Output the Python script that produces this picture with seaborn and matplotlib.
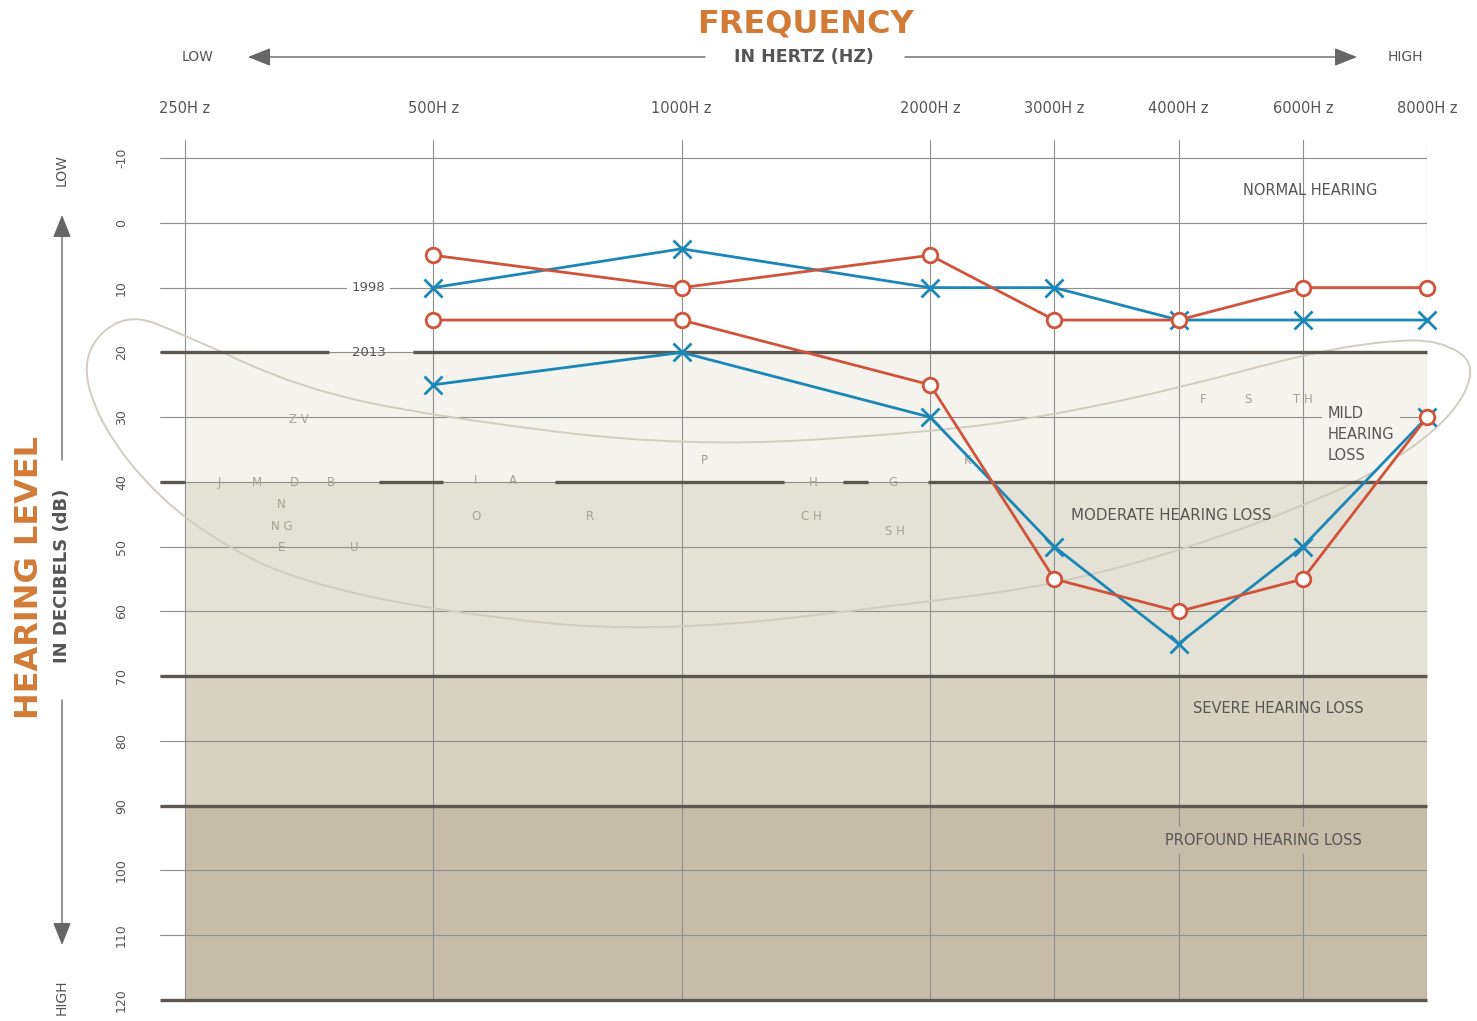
import matplotlib
matplotlib.use("Agg")
import matplotlib.pyplot as plt
import numpy as np
import pandas as pd
import seaborn as sns
from matplotlib.path import Path
from matplotlib.patches import PathPatch

# frequencies (x positions are octave steps, 3k/6k at half steps)
freq_labels = ["250H z", "500H z", "1000H z", "2000H z", "3000H z", "4000H z", "6000H z", "8000H z"]
freq_pos = [0, 1, 2, 3, 3.5, 4, 4.5, 5]
test_pos = [1, 2, 3, 3.5, 4, 4.5, 5]

# hearing thresholds in dB (red O = right ear, blue X = left ear)
right_1998 = [5, 10, 5, 15, 15, 10, 10]
left_1998 = [10, 4, 10, 10, 15, 15, 15]
right_2013 = [15, 15, 25, 55, 60, 55, 30]
left_2013 = [25, 20, 30, 50, 65, 50, 30]

db_ticks = list(range(-10, 121, 10))
band_edges = [20, 40, 70, 90, 120]
band_colors = ["#f4f3ee", "#e4e1d7", "#d6d1c1", "#c5bda7"]

band_names = ["NORMAL HEARING", "MILD\nHEARING\nLOSS", "MODERATE HEARING LOSS",
              "SEVERE HEARING LOSS", "PROFOUND HEARING LOSS"]
band_name_x = [4.53, 4.60, 3.97, 4.40, 4.34]
band_name_db = [-5, 32.7, 45.2, 75, 95.4]

phonemes = ["Z V", "J", "M", "D", "B", "N", "N G", "E", "U", "I", "A", "O", "R",
            "P", "H", "C H", "G", "S H", "K", "F", "S", "T H"]
phoneme_x = [0.46, 0.14, 0.29, 0.44, 0.59, 0.39, 0.39, 0.39, 0.68, 1.17, 1.32, 1.17, 1.63,
             2.09, 2.53, 2.52, 2.85, 2.86, 3.15, 4.10, 4.28, 4.50]
phoneme_db = [30.4, 40.1, 40.1, 40.1, 40.1, 43.5, 46.9, 50.2, 50.2, 39.8, 39.8, 45.4, 45.4,
              36.7, 40.1, 45.4, 40.1, 47.7, 36.7, 27.2, 27.2, 27.2]

# control polygon of the speech banana outline
banana_x = [-0.242, 0.0, 0.463, 1.002, 2.017, 3.023, 3.522, 4.034, 4.517, 4.831, 5.052, 5.205,
            5.101, 4.811, 4.517, 4.034, 3.523, 3.023, 1.872, 1.002, 0.463, 0.173, -0.109,
            -0.342, -0.423]
banana_db = [13.7, 17.3, 25.5, 29.9, 34.7, 32.3, 29.5, 25.2, 20.2, 18.2, 18.1, 21.9,
             30.1, 38.2, 43.5, 50.3, 55.7, 58.4, 63.5, 59.9, 55.3, 50.2, 42.4, 31.2, 20.4]

RED = "#d0533a"
BLUE = "#1b87b6"
ORANGE = "#d27b37"
DARK = "#555555"
PHON = "#a8a290"

W, H = 1477, 1021


def fpx(x, y):
    return x / W, 1 - y / H


def banana_path(xs, ys):
    # closed quadratic b-spline over the control points
    pts = np.column_stack([xs, ys])
    n = len(pts)
    mids = [(pts[i] + pts[(i + 1) % n]) / 2 for i in range(n)]
    verts = [mids[-1]]
    codes = [Path.MOVETO]
    for i in range(n):
        verts += [pts[i], mids[i]]
        codes += [Path.CURVE3, Path.CURVE3]
    return Path(verts, codes)


def main():
    sns.set_theme(style="white")
    plt.rcParams["font.family"] = ["DejaVu Sans"]

    rows = []
    for ear, year, vals in [("right", 1998, right_1998), ("left", 1998, left_1998),
                            ("right", 2013, right_2013), ("left", 2013, left_2013)]:
        for p, v in zip(test_pos, vals):
            rows.append({"pos": p, "db": v, "ear": ear, "year": year})
    df = pd.DataFrame(rows)

    fig = plt.figure(figsize=(W / 100, H / 100), dpi=100)
    ax = fig.add_axes([160 / W, 1 - 1000 / H, (1427 - 160) / W, (1000 - 140) / H])

    # severity bands
    for lo, hi, c in zip(band_edges[:-1], band_edges[1:], band_colors):
        ax.fill_between([freq_pos[0], freq_pos[-1]], lo, hi, color=c, lw=0, zorder=0.1)

    ax.grid(True, color="#8e8e8e", lw=0.8)
    ax.set_axisbelow(True)

    # thick boundaries, broken where labels sit
    segs = {20: [(-0.1, 0.58), (0.92, 5.0)],
            40: [(-0.1, 0.0), (0.78, 1.04), (1.49, 2.41), (2.65, 2.75), (2.99, 5.0)]}
    for lvl in band_edges:
        for a, b in segs.get(lvl, [(-0.1, 5.0)]):
            ax.plot([a, b], [lvl, lvl], color="#5c5851", lw=2.4, solid_capstyle="butt",
                    zorder=3, clip_on=False)

    ax.add_patch(PathPatch(banana_path(banana_x, banana_db), fill=False, ec="#d2cdbf",
                           lw=1.4, zorder=2, clip_on=False))

    for t, x, y in zip(phonemes, phoneme_x, phoneme_db):
        ax.text(x, y, t, color=PHON, fontsize=8.5, ha="center", va="center", zorder=2.5)

    bbox_cols = [None, band_colors[0], None, None, band_colors[3]]
    sizes = [10.5, 10.5, 10.8, 10.5, 10.5]
    for t, x, y, bc, fs in zip(band_names, band_name_x, band_name_db, bbox_cols, sizes):
        ha = "left" if "\n" in t else "center"
        kw = {}
        if bc is not None:
            kw["bbox"] = dict(fc=bc, ec="none", boxstyle="square,pad=0.4")
        ax.text(x, y, t, color=DARK, fontsize=fs, ha=ha, va="center",
                linespacing=1.5, zorder=2.6, **kw)

    ax.text(0.74, 10, "1998", color=DARK, fontsize=9.5, ha="center", va="center", zorder=2.6,
            bbox=dict(fc="white", ec="none", boxstyle="square,pad=0.35"))
    ax.text(0.74, 20, "2013", color=DARK, fontsize=9.5, ha="center", va="center", zorder=2.6)

    sns.lineplot(data=df[df.ear == "left"], x="pos", y="db", units="year", estimator=None,
                 color=BLUE, lw=2.0, marker="x", markersize=13, mew=2.0, mec=BLUE,
                 ax=ax, zorder=5, clip_on=False)
    sns.lineplot(data=df[df.ear == "right"], x="pos", y="db", units="year", estimator=None,
                 color=RED, lw=2.0, marker="o", markersize=10.5, mew=2.0, mec=RED,
                 mfc="white", ax=ax, zorder=6, clip_on=False)

    ax.set_xlim(-0.1, 5.0)
    ax.set_ylim(120, -12.8)
    ax.set_xlabel("")
    ax.set_ylabel("")
    ax.xaxis.tick_top()
    ax.set_xticks(freq_pos)
    ax.set_xticklabels(freq_labels)
    ax.tick_params(axis="x", length=0, pad=17, labelsize=10.5, labelcolor=DARK)
    ax.set_yticks(db_ticks)
    ax.set_yticklabels([str(v) for v in db_ticks], rotation=90, va="center")
    ax.tick_params(axis="y", length=0, pad=23, labelsize=9, labelcolor=DARK)
    for s in ax.spines.values():
        s.set_visible(False)

    # outer titles and arrows
    fig.text(*fpx(805, 24), "FREQUENCY", color=ORANGE, fontsize=23, fontweight="bold",
             ha="center", va="center")
    fig.text(*fpx(804, 57), "IN HERTZ (HZ)", color=DARK, fontsize=12.5, fontweight="bold",
             ha="center", va="center")
    fig.text(*fpx(198, 57), "LOW", color=DARK, fontsize=10, ha="center", va="center")
    fig.text(*fpx(1405, 57), "HIGH", color=DARK, fontsize=10, ha="center", va="center")
    fig.text(*fpx(30, 577), "HEARING LEVEL", color=ORANGE, fontsize=23, fontweight="bold",
             ha="center", va="center", rotation=90)
    fig.text(*fpx(62, 576), "IN DECIBELS (dB)", color=DARK, fontsize=13, fontweight="bold",
             ha="center", va="center", rotation=90)
    fig.text(*fpx(62, 170), "LOW", color=DARK, fontsize=10, ha="center", va="center", rotation=90)
    fig.text(*fpx(62, 997), "HIGH", color=DARK, fontsize=10, ha="center", va="center", rotation=90)

    arrow = dict(arrowstyle="-|>,head_length=0.7,head_width=0.28", color="#666666", lw=1.0,
                 mutation_scale=20, shrinkA=0, shrinkB=0)
    for start, end in [((705, 57), (248, 57)), ((905, 57), (1357, 57)),
                       ((62, 460), (62, 215)), ((62, 700), (62, 945))]:
        ax.annotate("", xy=fpx(*end), xytext=fpx(*start), xycoords="figure fraction",
                    textcoords="figure fraction", arrowprops=arrow, annotation_clip=False)

    fig.savefig("out.png", dpi=100)


if __name__ == "__main__":
    main()
